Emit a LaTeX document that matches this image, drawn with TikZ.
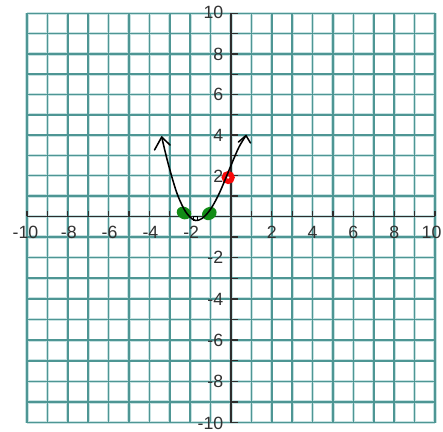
\documentclass[tikz,border=0pt]{standalone}
\usepackage{fontspec}
\setmainfont{Liberation Sans}
\definecolor{gridc}{RGB}{78,150,148}
\definecolor{gridhalo}{RGB}{200,226,226}
\definecolor{axc}{RGB}{45,45,45}
\definecolor{labc}{RGB}{50,50,50}
\definecolor{dotgreen}{RGB}{18,140,22}
\definecolor{ringred}{RGB}{250,10,10}
\tikzset{
  gridhaloline/.style={gridhalo, line width=2.4pt},
  gridline/.style={gridc, line width=1.1pt},
  axisline/.style={axc, line width=1.15pt},
  tickline/.style={axc, line width=1pt},
  lab/.style={text=labc, inner sep=0pt, font=\fontsize{13.3}{15}\selectfont},
  curveline/.style={black, line width=1.15pt, line cap=round, line join=round},
}
\begin{document}
\begin{tikzpicture}[x=0.75pt,y=-0.75pt]
\useasboundingbox (0,0) rectangle (443,432);
\fill[white] (0,0) rectangle (443,432);
% grid
\foreach \i in {0,...,20}{
  \pgfmathsetmacro\xx{27+20.4*\i}
  \pgfmathsetmacro\yy{ifthenelse(\i<=10, 13.3+20.3*\i, 216.3+20.64*(\i-10))}
  \draw[gridhaloline] (\xx,13.3) -- (\xx,422.7);
  \draw[gridhaloline] (27,\yy) -- (435,\yy);
}
\foreach \i in {0,...,20}{
  \pgfmathsetmacro\xx{27+20.4*\i}
  \pgfmathsetmacro\yy{ifthenelse(\i<=10, 13.3+20.3*\i, 216.3+20.64*(\i-10))}
  \draw[gridline] (\xx,13.3) -- (\xx,422.7);
  \draw[gridline] (27,\yy) -- (435,\yy);
}
% axes
\coordinate (xl) at (27,216.3);
\coordinate (xr) at (435,216.3);
\coordinate (yt) at (231,13.3);
\coordinate (yb) at (231,422.7);
\draw[axisline] (xl) -- (xr);
\draw[axisline] (yt) -- (yb);
\foreach \i in {0,...,20}{
  \pgfmathsetmacro\xx{27+20.4*\i}
  \pgfmathsetmacro\yy{ifthenelse(\i<=10, 13.3+20.3*\i, 216.3+20.64*(\i-10))}
  \draw[tickline] (\xx,216.3) -- (\xx,211.3);
  \draw[tickline] (231,\yy) -- (237.5,\yy);
}
% x labels
\node[lab] (xm10) at (25.5,232) {-10};
\node[lab] (xm8) at (68.8,232) {-8};
\node[lab] (xm6) at (109.6,232) {-6};
\node[lab] (xm4) at (150.4,232) {-4};
\node[lab] (xm2) at (191.2,232) {-2};
\node[lab] (xp2) at (271.8,232) {2};
\node[lab] (xp4) at (312.6,232) {4};
\node[lab] (xp6) at (353.4,232) {6};
\node[lab] (xp8) at (394.2,232) {8};
\node[lab] (xp10) at (431.5,232) {10};
% y labels
\node[lab, anchor=east] (yp10) at (223.5,12.5) {10};
\node[lab, anchor=east] (yp8) at (223.5,53.9) {8};
\node[lab, anchor=east] (yp6) at (223.5,94.5) {6};
\node[lab, anchor=east] (yp4) at (223.5,135.6) {4};
\node[lab, anchor=east] (yp2) at (223.5,176.2) {2};
\node[lab, anchor=east] (ym2) at (223.5,257.6) {-2};
\node[lab, anchor=east] (ym4) at (223.5,298.9) {-4};
\node[lab, anchor=east] (ym6) at (223.5,340.6) {-6};
\node[lab, anchor=east] (ym8) at (223.5,381.6) {-8};
\node[lab, anchor=east] (ym10) at (223.5,423) {-10};
% green points (roots)
\fill[dotgreen, shift={(184,213)}, rotate=-25] (0,0) ellipse [x radius=7.5, y radius=6.1];
\fill[dotgreen, shift={(209.3,213.5)}, rotate=30] (0,0) ellipse [x radius=7.6, y radius=6.3];
% red point (y-intercept)
\draw[ringred, line width=3.75pt] (228.2,177.5) circle (4);
% small mark at vertex
\draw[black, line width=0.9pt] (193.6,216.4) rectangle (197.6,220.4);
% parabola
\draw[curveline] plot[smooth, tension=0.55] coordinates {
  (161.7,137) (168,163) (176.5,192) (184,209) (190,217) (195.5,220.5)
  (202,218.5) (210,210) (218,196) (225,180) (232,163) (239,147) (246,135.5)};
% arrowheads
\draw[curveline] (154.5,150) -- (161.7,137) -- (170,145);
\draw[curveline] (238.5,142) -- (246,135.5) -- (250.5,143);
\end{tikzpicture}
\end{document}
